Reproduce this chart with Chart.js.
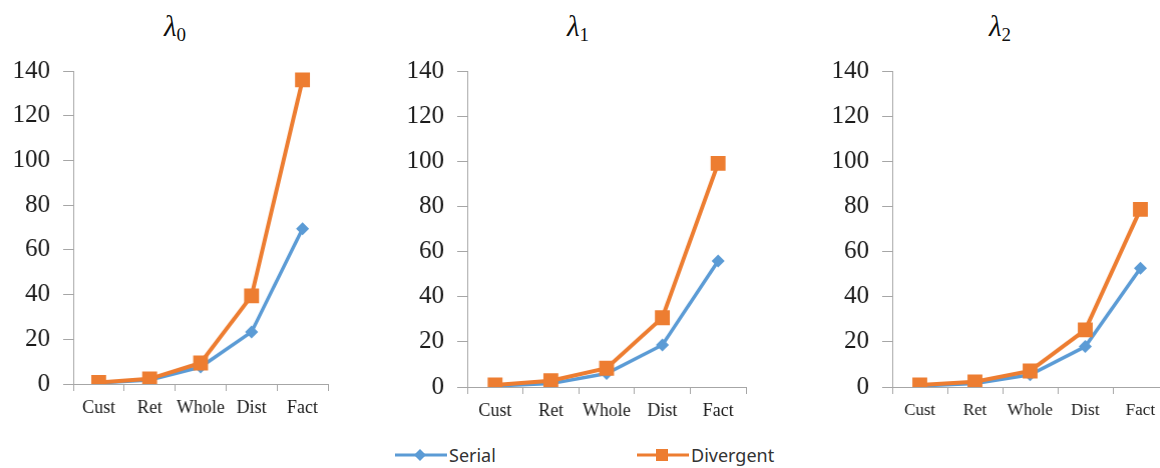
<!DOCTYPE html>
<html lang="en">
<head>
    <meta charset="UTF-8">
    <title>Serial vs Divergent</title>
    <script src="https://cdn.jsdelivr.net/npm/chart.js"></script>
    <style>
        html, body { margin: 0; padding: 0; background: #fff; width: 1160px; height: 468px; overflow: hidden; }
        canvas { position: absolute; }
        .titulo { position: absolute; top: 10px; width: 80px; text-align: center; font-family: "Liberation Serif", serif; color: #111; }
        .titulo i { font-size: 29px; }
        .titulo sub { font-size: 19px; vertical-align: -5px; }
        .leyenda { position: absolute; top: 443px; font-family: "Noto Sans", sans-serif; font-size: 18px; color: #333; display: flex; align-items: center; }
        .leyenda svg { margin-right: 2px; }
    </style>
</head>
<body>
    <div class="titulo" style="left:135px"><i>λ</i><sub>0</sub></div>
    <div class="titulo" style="left:538px"><i>λ</i><sub>1</sub></div>
    <div class="titulo" style="left:960px"><i>λ</i><sub>2</sub></div>

    <canvas id="g0"></canvas>
    <canvas id="g1"></canvas>
    <canvas id="g2"></canvas>

    <div class="leyenda" style="left:395px">
        <svg width="52" height="14"><line x1="0" y1="7" x2="52" y2="7" stroke="#5B9BD5" stroke-width="3"/><polygon points="25,1 31,7 25,13 19,7" fill="#5B9BD5"/></svg>Serial
    </div>
    <div class="leyenda" style="left:637px">
        <svg width="52" height="14"><line x1="0" y1="7" x2="52" y2="7" stroke="#ED7D31" stroke-width="3"/><rect x="19" y="1" width="12" height="12" fill="#ED7D31"/></svg>Divergent
    </div>

    <script>
        const categorias = ['Cust', 'Ret', 'Whole', 'Dist', 'Fact'];

        const serial0 = [0.5, 1.8, 7.6, 23.3, 69.4];
        const divergente0 = [0.7, 2.3, 9.4, 39.4, 136];

        const serial1 = [0.5, 1.5, 6.0, 18.6, 55.8];
        const divergente1 = [0.9, 2.8, 8.3, 30.7, 99.1];

        const serial2 = [0.5, 1.5, 5.4, 17.9, 52.6];
        const divergente2 = [0.9, 2.3, 7.1, 25.3, 78.7];

        const yMin = 0, yMax = 140, yPaso = 20;

        const gris = '#a6a6a6';
        const azul = '#5B9BD5';
        const naranja = '#ED7D31';
        const serif = "'Liberation Serif', 'Times New Roman', serif";

        // area del grafico (ejes) en coordenadas de la pagina
        const paneles = [
            { id: 'g0', izq: 73, der: 327, arr: 71, aba: 384, serial: serial0, div: divergente0, fx: 18 },
            { id: 'g1', izq: 467, der: 745, arr: 71, aba: 387, serial: serial1, div: divergente1, fx: 18 },
            { id: 'g2', izq: 892, der: 1167, arr: 71, aba: 387, serial: serial2, div: divergente2, fx: 17 }
        ];

        const anchoEjeY = 70, altoEjeX = 50;

        paneles.forEach(p => {
            const canvas = document.getElementById(p.id);
            canvas.width = (p.der - p.izq) + anchoEjeY + 10;
            canvas.height = (p.aba - p.arr) + altoEjeX + 20;

            const chart = new Chart(canvas.getContext('2d'), {
                type: 'line',
                data: {
                    labels: categorias,
                    datasets: [
                        {
                            label: 'Serial',
                            data: p.serial,
                            borderColor: azul,
                            backgroundColor: azul,
                            borderWidth: 3.5,
                            pointStyle: 'rectRot',
                            pointRadius: 6.5,
                            pointBorderWidth: 0,
                            tension: 0,
                            order: 2
                        },
                        {
                            label: 'Divergent',
                            data: p.div,
                            borderColor: naranja,
                            backgroundColor: naranja,
                            borderWidth: 4,
                            pointStyle: 'rect',
                            pointRadius: 10.5,
                            pointBorderWidth: 0,
                            tension: 0,
                            order: 1
                        }
                    ]
                },
                options: {
                    responsive: false,
                    maintainAspectRatio: false,
                    animation: false,
                    layout: { padding: 0 },
                    plugins: {
                        legend: { display: false },
                        tooltip: { enabled: false }
                    },
                    scales: {
                        x: {
                            offset: true,
                            grid: { offset: true, drawOnChartArea: false, drawTicks: true, tickLength: 7, color: gris },
                            border: { color: gris, width: 1 },
                            ticks: { color: '#1a1a1a', padding: 6, maxRotation: 0, autoSkip: false, font: { family: serif, size: p.fx } },
                            afterFit: s => { s.height = altoEjeX; }
                        },
                        y: {
                            min: yMin,
                            max: yMax,
                            ticks: { stepSize: yPaso, color: '#1a1a1a', padding: 13, font: { family: serif, size: 25 } },
                            grid: { drawOnChartArea: false, drawTicks: true, tickLength: 10, color: gris },
                            border: { color: gris, width: 1 },
                            afterFit: s => { s.width = anchoEjeY; }
                        }
                    }
                }
            });

            // ajustar el tamaño del canvas para que el area del grafico coincida
            for (let k = 0; k < 3; k++) {
                const a = chart.chartArea;
                const w = chart.width + ((p.der - p.izq) - (a.right - a.left));
                const h = chart.height + ((p.aba - p.arr) - (a.bottom - a.top));
                chart.resize(w, h);
            }
            canvas.style.left = (p.izq - chart.chartArea.left) + 'px';
            canvas.style.top = (p.arr - chart.chartArea.top) + 'px';
        });
    </script>
</body>
</html>
